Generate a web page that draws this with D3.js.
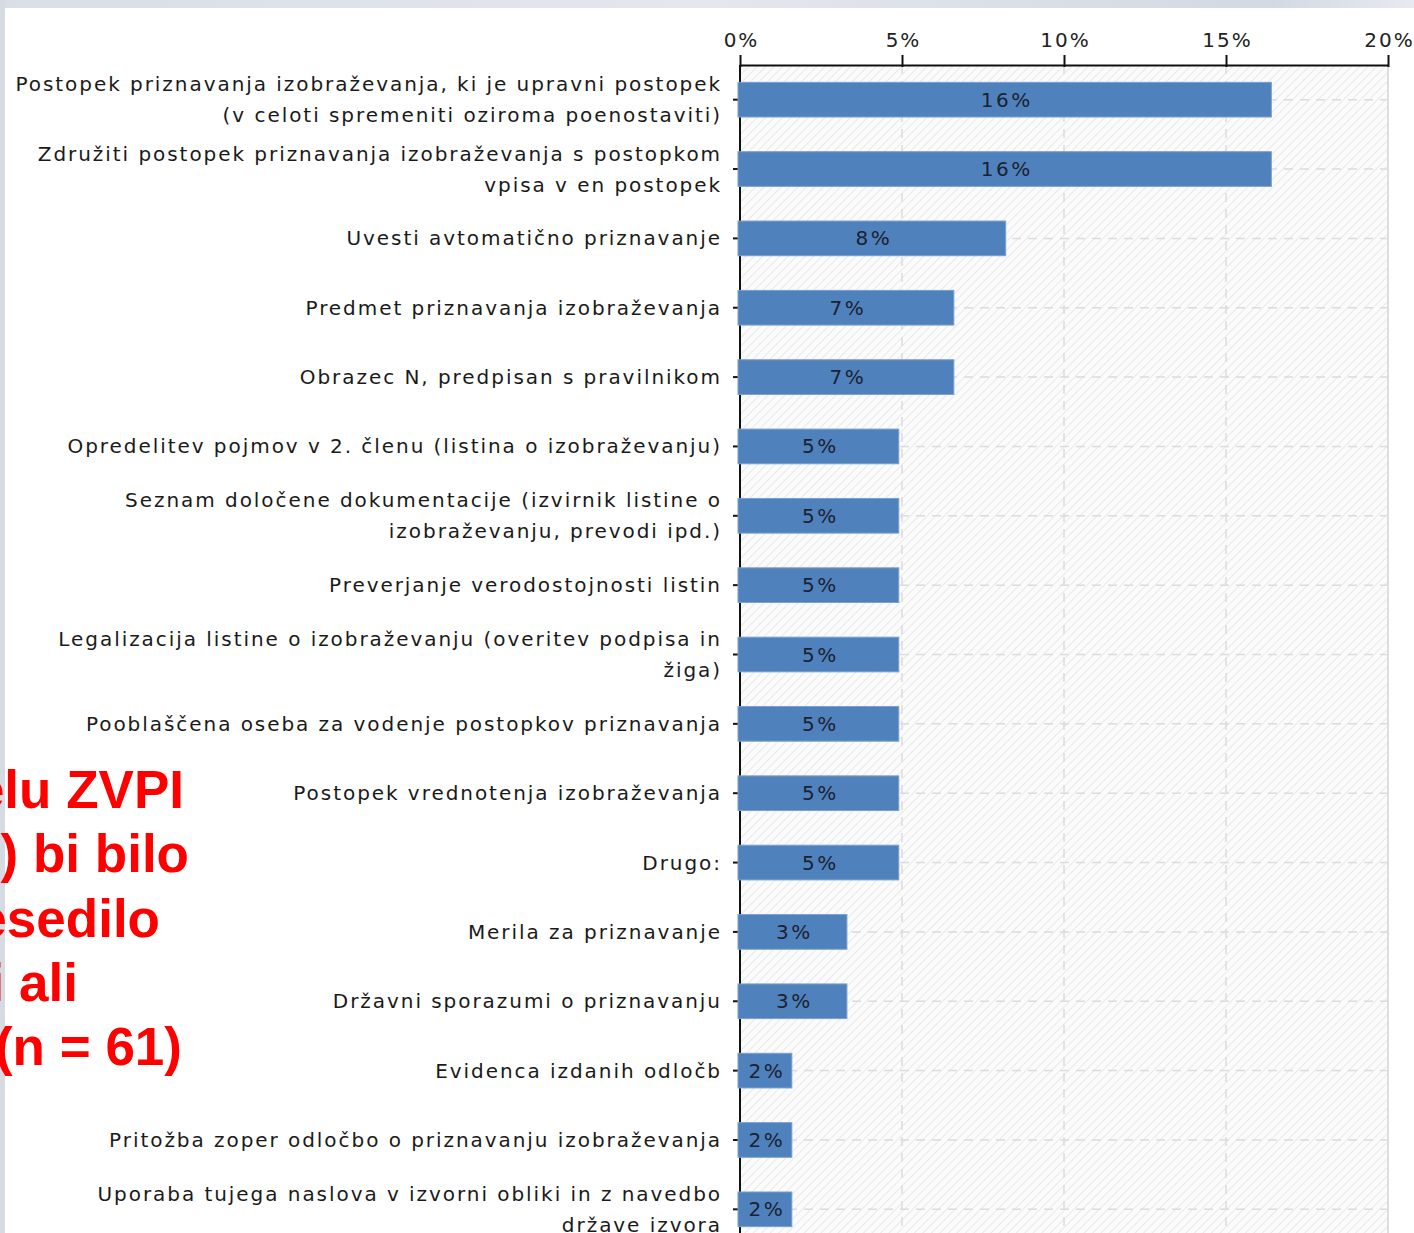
<!DOCTYPE html>
<html><head><meta charset="utf-8">
<script src="https://cdn.jsdelivr.net/npm/d3@7"></script>
<style>body{margin:0;background:#fff;overflow:hidden}svg{display:block}</style>
</head><body><svg id="c" width="1414" height="1233"></svg>
<script>
const categories = [
  "Postopek priznavanja izobraževanja, ki je upravni postopek\n(v celoti spremeniti oziroma poenostaviti)",
  "Združiti postopek priznavanja izobraževanja s postopkom\nvpisa v en postopek",
  "Uvesti avtomatično priznavanje",
  "Predmet priznavanja izobraževanja",
  "Obrazec N, predpisan s pravilnikom",
  "Opredelitev pojmov v 2. členu (listina o izobraževanju)",
  "Seznam določene dokumentacije (izvirnik listine o\nizobraževanju, prevodi ipd.)",
  "Preverjanje verodostojnosti listin",
  "Legalizacija listine o izobraževanju (overitev podpisa in\nžiga)",
  "Pooblaščena oseba za vodenje postopkov priznavanja",
  "Postopek vrednotenja izobraževanja",
  "Drugo:",
  "Merila za priznavanje",
  "Državni sporazumi o priznavanju",
  "Evidenca izdanih odločb",
  "Pritožba zoper odločbo o priznavanju izobraževanja",
  "Uporaba tujega naslova v izvorni obliki in z navedbo\ndržave izvora"
];
const values = [16.4, 16.4, 8.2, 6.6, 6.6, 4.9, 4.9, 4.9, 4.9, 4.9, 4.9, 4.9, 3.3, 3.3, 1.6, 1.6, 1.6];
const valueLabels = ["16%", "16%", "8%", "7%", "7%", "5%", "5%", "5%", "5%", "5%", "5%", "5%", "3%", "3%", "2%", "2%", "2%"];
const xTicks = [0, 5, 10, 15, 20];
const xTickLabels = ["0%", "5%", "10%", "15%", "20%"];
const overlayLines = ["elu ZVPI", ") bi bilo", "esedilo", "i ali", "(n = 61)"];

const svg = d3.select("#c");
const W = 1414, H = 1233;
const font = "'DejaVu Sans', Verdana, sans-serif";

// slide background edges
const defs = svg.append("defs");
const tg = defs.append("linearGradient").attr("id", "topg").attr("x1", 0).attr("x2", 1).attr("y1", 0).attr("y2", 0);
tg.append("stop").attr("offset", "0").attr("stop-color", "#d9dee7");
tg.append("stop").attr("offset", "0.5").attr("stop-color", "#e4e7ec");
tg.append("stop").attr("offset", "0.9").attr("stop-color", "#d3d9e3");
tg.append("stop").attr("offset", "1").attr("stop-color", "#e7eaef");
svg.append("rect").attr("x", 0).attr("y", 0).attr("width", W).attr("height", 8).attr("fill", "url(#topg)");
svg.append("rect").attr("x", 0).attr("y", 0).attr("width", 5).attr("height", H).attr("fill", "#d6dae3");

// hatch pattern
const pat = defs.append("pattern").attr("id", "hatch").attr("patternUnits", "userSpaceOnUse")
  .attr("width", 6).attr("height", 6).attr("patternTransform", "rotate(45)");
pat.append("rect").attr("width", 6).attr("height", 6).attr("fill", "#fbfbfb");
pat.append("line").attr("x1", 0).attr("y1", 0).attr("x2", 0).attr("y2", 6)
  .attr("stroke", "#e9e9e9").attr("stroke-width", 2);

const x = d3.scaleLinear().domain([0, 20]).range([740, 1388]);
const y = d3.scaleBand().domain(categories).range([65, 1244]).paddingInner(0.5).paddingOuter(0.25);

// plot background
svg.append("rect").attr("x", x(0)).attr("y", 65).attr("width", x(20) - x(0)).attr("height", H - 65)
  .attr("fill", "url(#hatch)");

// vertical grid
svg.append("g").selectAll("line").data(xTicks.filter(t => t > 0 && t < 20)).join("line")
  .attr("x1", d => x(d)).attr("x2", d => x(d)).attr("y1", 65).attr("y2", H)
  .attr("stroke", "#dcdcdc").attr("stroke-width", 1.5).attr("stroke-dasharray", "9,7");
svg.append("line").attr("x1", x(20)).attr("x2", x(20)).attr("y1", 65).attr("y2", H)
  .attr("stroke", "#dedede").attr("stroke-width", 2);

// horizontal grid
svg.append("g").selectAll("line").data(categories).join("line")
  .attr("x1", x(0)).attr("x2", x(20))
  .attr("y1", d => y(d) + y.bandwidth() / 2).attr("y2", d => y(d) + y.bandwidth() / 2)
  .attr("stroke", "#dcdcdc").attr("stroke-width", 1.5).attr("stroke-dasharray", "9,7");

// x axis (top)
const xAxis = svg.append("g").attr("transform", "translate(0,65)")
  .call(d3.axisTop(x).tickValues(xTicks).tickFormat((d, i) => xTickLabels[i]).tickSize(10).tickPadding(8).tickSizeOuter(0));
xAxis.select(".domain").attr("stroke", "#111").attr("stroke-width", 2);
xAxis.selectAll(".tick line").attr("stroke", "#111").attr("stroke-width", 2).attr("y2", -10).attr("y1", 2);
xAxis.selectAll("text").attr("font-family", font).attr("font-size", 20).attr("fill", "#222")
  .attr("letter-spacing", "2px").attr("dx", 1);

// y axis
const yAxis = svg.append("g").attr("transform", `translate(${x(0)},0)`)
  .call(d3.axisLeft(y).tickSize(7).tickPadding(13).tickSizeOuter(0));
yAxis.select(".domain").attr("d", `M0,65V${H}`).attr("stroke", "#111").attr("stroke-width", 2);
yAxis.selectAll(".tick line").attr("stroke", "#111").attr("stroke-width", 2);
yAxis.selectAll(".tick text").each(function (d) {
  const t = d3.select(this);
  const lines = d.split("\n");
  t.text(null).attr("font-family", font).attr("font-size", 20).attr("fill", "#1a1a1a").attr("dy", null)
    .attr("letter-spacing", "1.95px");
  const off = -(lines.length - 1) / 2 * 31;
  lines.forEach((ln, i) => {
    t.append("tspan").attr("x", -18).attr("y", off + i * 31).attr("dy", "0.35em").text(ln);
  });
});

// bars
svg.append("g").selectAll("rect").data(values).join("rect")
  .attr("x", x(0) - 2).attr("y", (d, i) => y(categories[i]))
  .attr("width", d => x(d) - x(0) + 2).attr("height", y.bandwidth())
  .attr("fill", "#4f81bd").attr("stroke", "#7aa0d0").attr("stroke-width", 1);

// bar labels
svg.append("g").selectAll("text").data(values).join("text")
  .attr("x", d => (x(0) + x(d)) / 2).attr("y", (d, i) => y(categories[i]) + y.bandwidth() / 2)
  .attr("dy", "0.35em").attr("dx", 1).attr("text-anchor", "middle")
  .attr("font-family", font).attr("font-size", 20).attr("fill", "#1b2230")
  .attr("letter-spacing", "2.5px")
  .text((d, i) => valueLabels[i]);

// red overlay text from slide
const overlayRight = [184, 189, 160, 78, 182];
svg.append("g").selectAll("text").data(overlayLines).join("text")
  .attr("x", (d, i) => overlayRight[i]).attr("y", (d, i) => 808 + i * 64.3)
  .attr("text-anchor", "end")
  .attr("font-family", "'Liberation Sans', Arial, sans-serif").attr("font-weight", "bold")
  .attr("font-size", 53).attr("fill", "#ff0000")
  .text(d => d);
</script></body></html>
